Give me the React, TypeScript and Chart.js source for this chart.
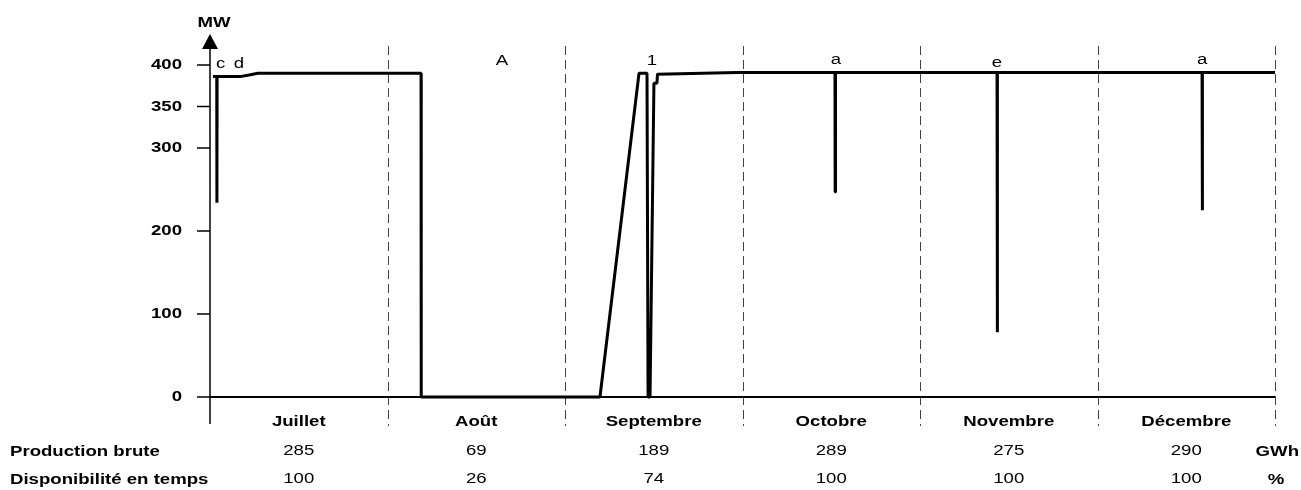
import React, { useEffect, useRef } from 'react';
import { Chart, registerables } from 'chart.js';

Chart.register(...registerables);

// ---- data ----
const months = ['Juillet', 'Août', 'Septembre', 'Octobre', 'Novembre', 'Décembre'];
const productionGWh = ['285', '69', '189', '289', '275', '290'];
const availabilityPct = ['100', '26', '74', '100', '100', '100'];
const yTicks = [0, 100, 200, 300, 350, 400];

// time in month units (0 = 1st July, 6 = 31st December)
const timeMonths = [
  0.017, 0.038, 0.039, 0.040, 0.169, 0.22, 0.27,
  1.189, 1.190, 2.197, 2.417, 2.462, 2.468, 2.479,
  2.501, 2.518, 2.521, 2.97,
  3.521, 3.522, 3.524,
  4.434, 4.435, 4.437,
  5.589, 5.590, 5.592,
  6.0,
];
const powerMW = [
  386, 386, 234, 386, 386, 388, 390,
  390, 0, 0, 390, 390, 0, 0,
  378, 378, 389, 391,
  391, 247, 391,
  391, 78, 391,
  391, 225, 391,
  391,
];

const eventLabels = ['c', 'd', 'A', '1', 'a', 'e', 'a'];
const eventMonths = [0.06, 0.163, 1.645, 2.49, 3.527, 4.434, 5.589];
const eventLevelMW = [396, 396, 400, 400, 401, 398, 401];

const FONT = '"Liberation Sans", Arial, sans-serif';
const STRETCH = 1.2;

function txt(ctx: CanvasRenderingContext2D, s: string, x: number, y: number, align: CanvasTextAlign, bold: boolean, baseline: CanvasTextBaseline = 'middle') {
  ctx.save();
  ctx.translate(x, y);
  ctx.scale(STRETCH, 1);
  ctx.font = `${bold ? 'bold ' : ''}15.5px ${FONT}`;
  ctx.textAlign = align;
  ctx.textBaseline = baseline;
  ctx.fillStyle = '#000';
  ctx.fillText(s, 0, 0);
  ctx.restore();
}

const decorPlugin = {
  id: 'decor',
  beforeDatasetsDraw(chart: any) {
    const ctx: CanvasRenderingContext2D = chart.ctx;
    const xs = chart.scales.x;
    const ys = chart.scales.y;
    const y0 = ys.getPixelForValue(0);
    const xLeft = xs.getPixelForValue(0);
    const xRight = xs.getPixelForValue(months.length);
    ctx.save();
    // dashed month separators
    ctx.strokeStyle = '#444';
    ctx.lineWidth = 1;
    ctx.setLineDash([9, 5]);
    for (let i = 1; i <= months.length; i++) {
      const x = Math.round(xs.getPixelForValue(i)) + 0.5;
      ctx.beginPath();
      ctx.moveTo(x, 46);
      ctx.lineTo(x, 426);
      ctx.stroke();
    }
    ctx.setLineDash([]);
    // x axis line
    ctx.strokeStyle = '#000';
    ctx.lineWidth = 2;
    ctx.beginPath();
    ctx.moveTo(xLeft, y0);
    ctx.lineTo(xRight, y0);
    ctx.stroke();
    // y axis line
    ctx.lineWidth = 1.5;
    ctx.beginPath();
    ctx.moveTo(xLeft, 46);
    ctx.lineTo(xLeft, 424);
    ctx.stroke();
    // arrow
    ctx.fillStyle = '#000';
    ctx.beginPath();
    ctx.moveTo(xLeft, 34);
    ctx.lineTo(xLeft - 8, 49);
    ctx.lineTo(xLeft + 8, 49);
    ctx.closePath();
    ctx.fill();
    // ticks
    for (const v of yTicks) {
      const y = ys.getPixelForValue(v);
      ctx.beginPath();
      ctx.moveTo(xLeft - 13, y);
      ctx.lineTo(xLeft, y);
      ctx.stroke();
      txt(ctx, String(v), xLeft - 28, y, 'right', true);
    }
    txt(ctx, 'MW', xLeft + 4, 23, 'center', true);
    ctx.restore();
  },
  afterDatasetsDraw(chart: any) {
    const ctx: CanvasRenderingContext2D = chart.ctx;
    const xs = chart.scales.x;
    const ys = chart.scales.y;
    // event labels
    eventLabels.forEach((s, i) => {
      txt(ctx, s, xs.getPixelForValue(eventMonths[i]), ys.getPixelForValue(eventLevelMW[i]), 'center', false, 'alphabetic');
    });
    // month labels and table
    months.forEach((m, i) => {
      const xc = xs.getPixelForValue(i + 0.5);
      txt(ctx, m, xc, 422, 'center', true);
      txt(ctx, productionGWh[i], xc, 451, 'center', false);
      txt(ctx, availabilityPct[i], xc, 479, 'center', false);
    });
    txt(ctx, 'Production brute', 10, 452, 'left', true);
    txt(ctx, 'Disponibilité en temps', 10, 480, 'left', true);
    txt(ctx, 'GWh', 1299, 452, 'right', true);
    txt(ctx, '%', 1276, 480, 'center', true);
  },
};

export default function App() {
  const ref = useRef<HTMLCanvasElement | null>(null);
  useEffect(() => {
    if (!ref.current) return;
    const chart = new Chart(ref.current, {
      type: 'line',
      data: {
        datasets: [
          {
            data: timeMonths.map((t, i) => ({ x: t, y: powerMW[i] })),
            borderColor: '#000',
            borderWidth: 3,
            pointRadius: 0,
            tension: 0,
            fill: false,
            clip: false as any,
            borderJoinStyle: 'bevel',
          },
        ],
      },
      options: {
        responsive: false,
        animation: false,
        layout: { autoPadding: false, padding: { left: 210, right: 26, top: 65, bottom: 93 } },
        plugins: { legend: { display: false }, tooltip: { enabled: false } },
        scales: {
          x: { type: 'linear', min: 0, max: months.length, display: false },
          y: { type: 'linear', min: 0, max: 400, display: false },
        },
      },
      plugins: [decorPlugin],
    });
    return () => chart.destroy();
  }, []);
  return (
    <div style={{ position: 'absolute', left: 0, top: 0, width: 1301, height: 490, background: '#fff' }}>
      <canvas ref={ref} width={1301} height={490} style={{ display: 'block' }} />
    </div>
  );
}
